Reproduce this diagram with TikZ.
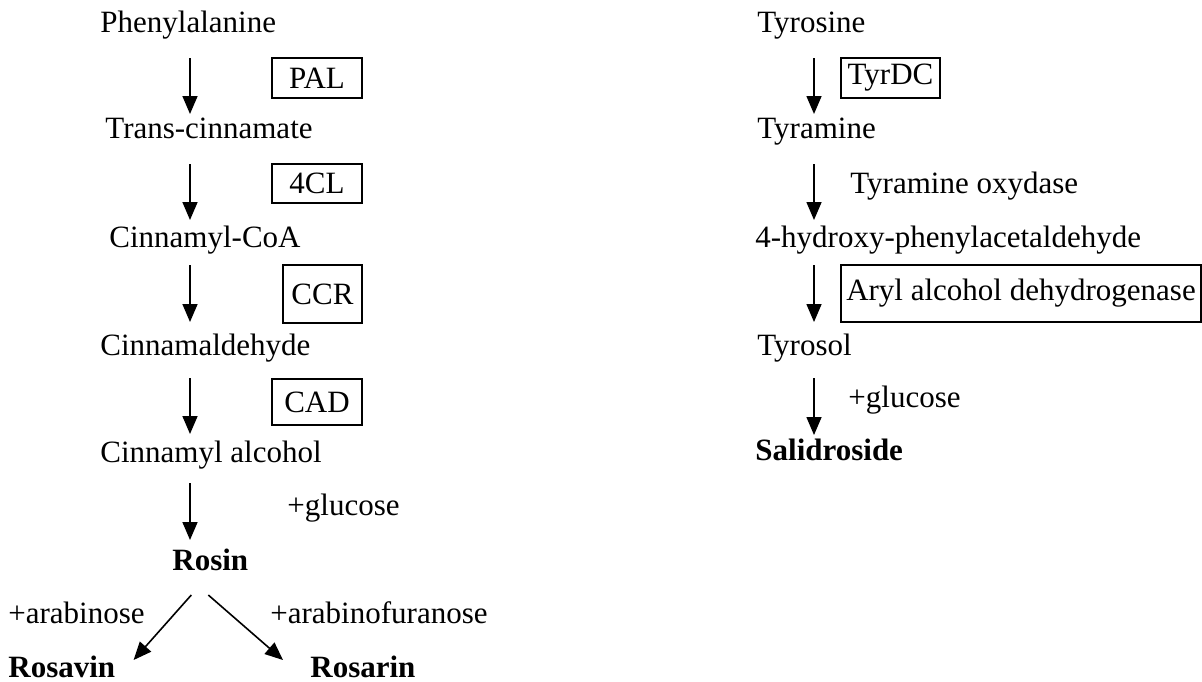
\documentclass[tikz,border=0pt]{standalone}
\usepackage{fontspec}
\setmainfont{Liberation Serif}
\usetikzlibrary{arrows.meta, calc}

\begin{document}
\begin{tikzpicture}[x=0.5pt, y=-0.5pt, >={Triangle[width=7.5pt,length=9pt]},
    chem/.style={anchor=base west, inner sep=0pt, font=\fontsize{15.5}{18}\selectfont},
    prod/.style={chem, font=\fontsize{15.5}{18}\selectfont\bfseries},
    enz/.style={draw, line width=0.7pt, inner sep=0pt, font=\fontsize{15.5}{18}\selectfont},
    flow/.style={->, line width=0.8pt}]
        \useasboundingbox (0,0) rectangle (1202,681);
        \coordinate (ax) at (190,0);
        \coordinate (bx) at (814,0);

        % rosin branch
        \node[chem] (phe) at (100,32) {Phenylalanine};
        \node[chem] (tci) at (105,138) {Trans-cinnamate};
        \node[chem] (cco) at (109,247) {Cinnamyl-CoA};
        \node[chem] (cal) at (100,355) {Cinnamaldehyde};
        \node[chem] (cac) at (100,462) {Cinnamyl alcohol};
        \node[chem] (glc) at (287,515) {+glucose};
        \node[prod] (ros) at (172,570) {Rosin};
        \node[chem] (ara) at (8,623) {+arabinose};
        \node[chem] (arf) at (270,623) {+arabinofuranose};
        \node[prod] (rsv) at (8,677) {Rosavin};
        \node[prod] (rsr) at (310,677) {Rosarin};

        \node[enz, minimum width=45pt, minimum height=20pt] (pal) at (317,78) {PAL};
        \node[enz, minimum width=45pt, minimum height=19.5pt] (fcl) at (317,183.5) {4CL};
        \node[enz, minimum width=39.5pt, minimum height=29pt] (ccr) at (322.5,294) {CCR};
        \node[enz, minimum width=45pt, minimum height=23pt] (cad) at (317,402) {CAD};

        \draw[flow] ($(phe.base -| ax)+(0,26)$) -- ($(tci.base -| ax)+(0,-24)$);
        \draw[flow] ($(tci.base -| ax)+(0,26)$) -- ($(cco.base -| ax)+(0,-27)$);
        \draw[flow] ($(cco.base -| ax)+(0,18)$) -- ($(cal.base -| ax)+(0,-33)$);
        \draw[flow] ($(cal.base -| ax)+(0,23)$) -- ($(cac.base -| ax)+(0,-28)$);
        \draw[flow] ($(cac.base -| ax)+(0,21)$) -- ($(ros.base -| ax)+(0,-30)$);
        \draw[flow] ($(ros.base)+(-19,25)$) -- ($(rsv.base east)+(18,-17)$);
        \draw[flow] ($(ros.base)+(-2,25)$) -- ($(rsr.base west)+(-27,-17)$);

        % salidroside branch
        \node[chem] (tyr) at (757,32) {Tyrosine};
        \node[chem] (tym) at (757,138) {Tyramine};
        \node[chem] (tox) at (850,193) {Tyramine oxydase};
        \node[chem] (hpa) at (755,247) {4-hydroxy-phenylacetaldehyde};
        \node[chem] (tys) at (757,355) {Tyrosol};
        \node[chem] (glc2) at (848,407) {+glucose};
        \node[prod] (sal) at (755,460) {Salidroside};

        \node[enz, minimum width=49.5pt, minimum height=20pt] (tdc) at (890.5,78) {TyrDC};
        \node[enz, minimum width=180pt, minimum height=28.5pt] (aad) at (1021,293.5) {Aryl alcohol dehydrogenase};

        \draw[flow] ($(tyr.base -| bx)+(0,26)$) -- ($(tym.base -| bx)+(0,-24)$);
        \draw[flow] ($(tym.base -| bx)+(0,26)$) -- ($(hpa.base -| bx)+(0,-27)$);
        \draw[flow] ($(hpa.base -| bx)+(0,18)$) -- ($(tys.base -| bx)+(0,-33)$);
        \draw[flow] ($(tys.base -| bx)+(0,23)$) -- ($(sal.base -| bx)+(0,-25)$);
\end{tikzpicture}
\end{document}
